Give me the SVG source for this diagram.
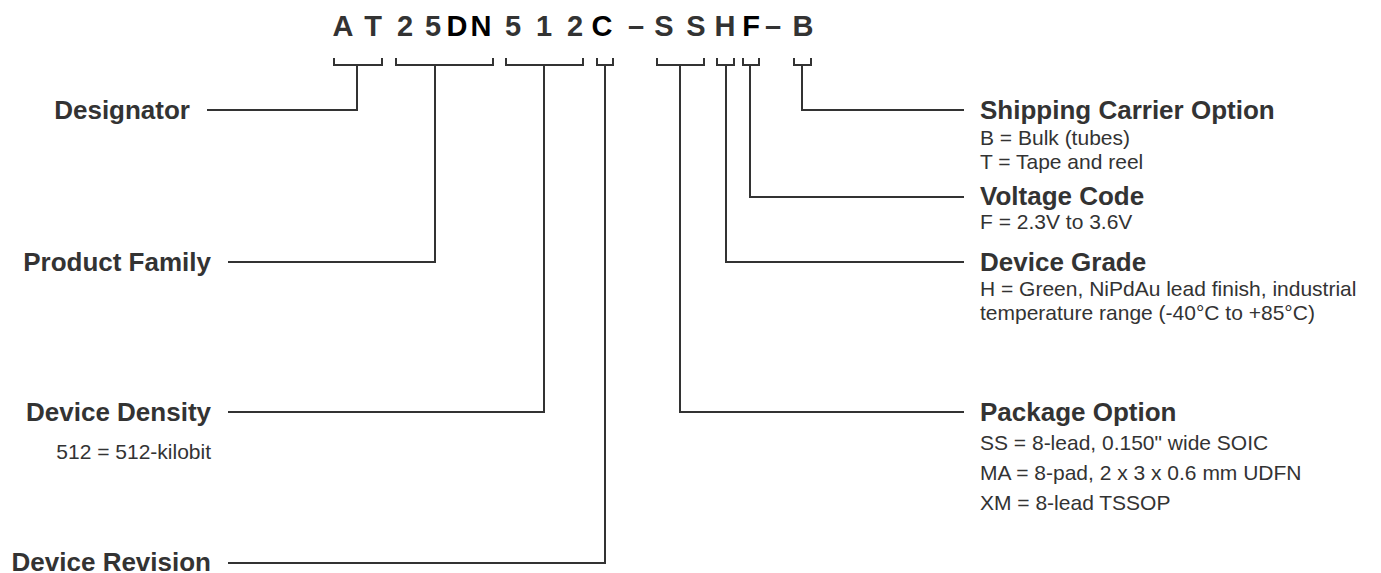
<svg xmlns="http://www.w3.org/2000/svg" width="1381" height="573" viewBox="0 0 1381 573">
<style>
.code{font-family:"Liberation Sans",Arial,sans-serif;font-weight:bold;font-size:29px;fill:#333;text-anchor:middle}
.dk{fill:#000}
.lbl{font-family:"Liberation Sans",Arial,sans-serif;font-weight:bold;font-size:26px;fill:#333}
.sub{font-family:"Liberation Sans",Arial,sans-serif;font-size:21px;fill:#333}
.end{text-anchor:end}
.conn path{fill:none;stroke:#333;stroke-width:2;stroke-linejoin:miter;stroke-linecap:butt}
</style>
<rect width="1381" height="573" fill="#fff"/>
<g id="part-number">
<text class="code" x="343" y="36">A</text>
<text class="code" x="373" y="36">T</text>
<text class="code" x="405" y="36">2</text>
<text class="code" x="433" y="36">5</text>
<text class="code dk" x="457" y="36">D</text>
<text class="code dk" x="481" y="36">N</text>
<text class="code" x="513" y="36">5</text>
<text class="code" x="544" y="36">1</text>
<text class="code" x="575" y="36">2</text>
<text class="code dk" x="602" y="36">C</text>
<text class="code" x="636" y="36">–</text>
<text class="code" x="664" y="36">S</text>
<text class="code" x="696" y="36">S</text>
<text class="code" x="725" y="36">H</text>
<text class="code dk" x="751" y="36">F</text>
<text class="code" x="773" y="36">–</text>
<text class="code" x="803" y="36">B</text>
</g>
<g id="connectors" class="conn">
<path d="M334,58 V65 H382 V58 M357,65 V110 H207"/>
<path d="M396,58 V65 H493 V58 M435,65 V262 H228"/>
<path d="M506,58 V65 H583 V58 M544,65 V412 H228"/>
<path d="M597,58 V65 H613 V58 M605,65 V563 H228"/>
<path d="M657,58 V65 H704 V58 M680,65 V412 H964"/>
<path d="M717,58 V65 H734 V58 M726,65 V262 H964"/>
<path d="M743,58 V65 H759 V58 M750,65 V197 H964"/>
<path d="M794,58 V65 H811 V58 M802,65 V110 H964"/>
</g>
<g id="designator"><text class="lbl end" x="190" y="119">Designator</text></g>
<g id="product-family"><text class="lbl end" x="211" y="271">Product Family</text></g>
<g id="device-density"><text class="lbl end" x="211" y="421">Device Density</text>
<text class="sub end" x="211" y="459">512 = 512-kilobit</text></g>
<g id="device-revision"><text class="lbl end" x="211" y="571">Device Revision</text></g>
<g id="shipping-carrier"><text class="lbl" x="980" y="119">Shipping Carrier Option</text>
<text class="sub" x="980" y="145">B = Bulk (tubes)</text>
<text class="sub" x="980" y="169">T = Tape and reel</text></g>
<g id="voltage-code"><text class="lbl" x="980" y="205">Voltage Code</text>
<text class="sub" x="980" y="229">F = 2.3V to 3.6V</text></g>
<g id="device-grade"><text class="lbl" x="980" y="271">Device Grade</text>
<text class="sub" x="980" y="296">H = Green, NiPdAu lead finish, industrial</text>
<text class="sub" x="980" y="320">temperature range (-40°C to +85°C)</text></g>
<g id="package-option"><text class="lbl" x="980" y="421">Package Option</text>
<text class="sub" x="980" y="450">SS = 8-lead, 0.150" wide SOIC</text>
<text class="sub" x="980" y="480">MA = 8-pad, 2 x 3 x 0.6 mm UDFN</text>
<text class="sub" x="980" y="510">XM = 8-lead TSSOP</text></g>
</svg>
